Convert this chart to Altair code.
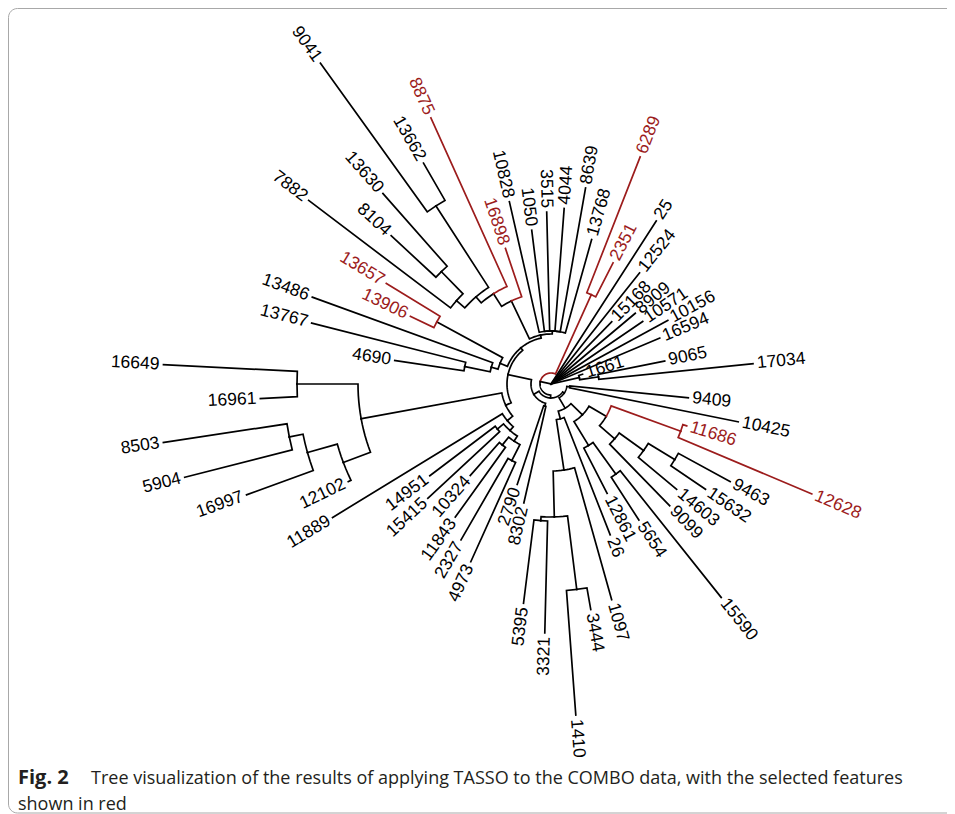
import math
import pandas as pd
import altair as alt

# ---------------- data ----------------
# leaves in angular order (counter-clockwise from the right)
leaf_names = ["17034", "9065", "1661", "16594", "10156", "10571", "8909", "15168", "12524", "25",
              "2351", "6289", "13768", "8639", "4044", "3515", "1050", "10828", "16898", "8875",
              "13662", "9041", "13630", "8104", "7882", "13657", "13906", "13486", "13767", "4690",
              "16649", "16961", "8503", "5904", "16997", "12102", "11889", "14951", "15415", "10324",
              "11843", "2327", "4973", "2790", "8302", "5395", "3321", "1410", "3444", "1097",
              "26", "12861", "5654", "15590", "9099", "14603", "15632", "9463", "12628", "11686",
              "10425", "9409"]
leaf_parent = ["F1", "F1", "F2", "root", "root", "root", "root", "root", "root", "root",
               "Red1", "Red1", "TG", "TG", "TG", "TG", "TG", "TG", "E", "D",
               "A", "A", "F", "F", "G", "Z", "Z", "M2", "M1", "M1",
               "Nd", "Nd", "Na", "Na", "Nb", "Nc", "X6", "X1", "X1", "X2",
               "X2", "X3", "X3", "W", "W", "T", "T", "U", "U", "V",
               "N37", "N72", "N111", "N111", "N84", "N114", "N145", "N145", "Red2", "Red2",
               "LR1", "LR1"]
leaf_depth = [203, 116, 33, 118, 133, 111, 110, 87, 142, 194,
              136, 244, 150, 199, 176, 172, 155, 187, 143, 292,
              255, 395, 254, 218, 304, 193, 156, 254, 247, 158,
              388, 291, 392, 378, 324, 225, 256, 152, 168, 122,
              164, 180, 195, 106, 122, 221, 249, 332, 229, 224,
              162, 123, 162, 273, 170, 164, 187, 204, 283, 142,
              191, 138]
selected = ["2351", "6289", "16898", "8875", "13657", "13906", "12628", "11686"]

node_names = ["root", "F2", "F1", "P", "Red1", "X", "L6", "W", "L5", "L3", "L1", "TG", "E", "D",
              "H", "A", "G", "F", "L2", "Z", "M2", "M1", "L4", "Ne", "Nd", "Nc", "Nb", "Na",
              "X6", "X5", "X1", "X4", "X2", "X3", "LR", "LR1", "N30", "N37", "V", "S", "T", "U",
              "R", "N72", "N111", "Q", "N84", "N114", "N145", "Red2"]
node_parent = [None, "root", "F2", "root", "P", "P", "X", "L6", "L6", "L5", "L3", "L1", "L1", "E",
               "D", "H", "H", "G", "L3", "L2", "L2", "M2", "L5", "L4", "Ne", "Ne", "Nc", "Nb",
               "L4", "X6", "X5", "X5", "X4", "X4", "X", "LR", "LR", "N30", "N37", "V", "S", "S",
               "N30", "R", "N72", "R", "Q", "N84", "N114", "Q"]
node_depth = [0, 29, 48, 11, 98, 14, 20, 23, 44, 47, 50, 53, 92, 107,
              115, 212, 126, 157, 55, 130, 62, 88, 50, 193, 254, 222, 253, 267,
              57, 62, 70, 68, 78, 86, 16, 19, 28, 36, 87, 133, 137, 207,
              44, 72, 111, 64, 84, 114, 145, 138]
red_nodes = ["Red1", "Red2"]

caption_bold = "Fig. 2"
caption_line1 = "Tree visualization of the results of applying TASSO to the COMBO data, with the selected features"
caption_line2 = "shown in red"

RED = "#9c1c1c"
BLACK = "#000000"

# ---------------- fan layout ----------------
W, H = 939, 806
CX, CY = 543.0, 376.0
SLOT = 360.0 / (len(leaf_names) + 1)

parent, depth = {}, {}
for n, p, d in zip(node_names, node_parent, node_depth):
    parent[n], depth[n] = p, d
for n, p, d in zip(leaf_names, leaf_parent, leaf_depth):
    parent[n], depth[n] = p, d
children = {n: [] for n in node_names}
for n in node_names[1:] + leaf_names:
    children[parent[n]].append(n)

angle = {n: (i + 1) * SLOT for i, n in enumerate(leaf_names)}


def get_angle(n):
    if n not in angle:
        a = [get_angle(c) for c in children[n]]
        angle[n] = (min(a) + max(a)) / 2
    return angle[n]


get_angle("root")
red = set(selected) | set(red_nodes)


def pt(r, th):
    t = math.radians(th)
    return CX + r * math.cos(t), CY - r * math.sin(t)


rows = []
for c, p in parent.items():
    if p is None:
        continue
    rp, rc = depth[p], depth[c]
    a0, a1 = angle[p], angle[c]
    pts = []
    if rp > 0:
        nstep = max(1, int(abs(a1 - a0) / 1.5))
        for k in range(nstep + 1):
            pts.append(pt(rp, a0 + (a1 - a0) * k / nstep))
    else:
        pts.append(pt(0, a1))
    pts.append(pt(rc, a1))
    col = RED if c in red else BLACK
    for k, (x, y) in enumerate(pts):
        rows.append({"seg": c, "k": k, "x": x, "y": y, "col": col})
seg_df = pd.DataFrame(rows)

lab = []
for n in leaf_names:
    th = angle[n]
    x, y = pt(depth[n] + 4, th)
    left = 90 < th < 270
    rot = (180 - th) % 360 if left else (-th) % 360
    lab.append({"name": n, "x": x, "y": y, "rot": rot, "side": "L" if left else "R",
                "col": RED if n in selected else BLACK})
lab_df = pd.DataFrame(lab)

xs = alt.X("x:Q", scale=alt.Scale(domain=[0, W], nice=False, zero=False), axis=None)
ys = alt.Y("y:Q", scale=alt.Scale(domain=[0, H], nice=False, zero=False, reverse=True), axis=None)

lines = alt.Chart(seg_df).mark_line(strokeWidth=1.7, strokeJoin="miter", strokeCap="square").encode(
    x=xs, y=ys, detail="seg:N", order="k:Q", color=alt.Color("col:N", scale=None))


def labels(side, align):
    return alt.Chart(lab_df[lab_df.side == side]).mark_text(
        align=align, baseline="middle", font="Liberation Sans", fontSize=17.5).encode(
        x=xs, y=ys, text="name:N", angle=alt.Angle("rot:Q", scale=None),
        color=alt.Color("col:N", scale=None))


frame = alt.Chart(pd.DataFrame({"a": [0]})).mark_rect(
    fill=None, stroke="#a8a8a8", strokeWidth=1, cornerRadius=9).encode(
    x=alt.value(0.5), x2=alt.value(980), y=alt.value(0.5), y2=alt.value(805))

cap_font = "Open Sans"
cap1 = alt.Chart(pd.DataFrame({"t": [caption_bold]})).mark_text(
    align="left", baseline="alphabetic", font=cap_font, fontSize=20, fontWeight="bold",
    color="#231f20").encode(x=alt.value(10), y=alt.value(776), text="t:N")
cap2 = alt.Chart(pd.DataFrame({"t": [caption_line1]})).mark_text(
    align="left", baseline="alphabetic", font=cap_font, fontSize=18, color="#231f20").encode(
    x=alt.value(83), y=alt.value(776), text="t:N")
cap3 = alt.Chart(pd.DataFrame({"t": [caption_line2]})).mark_text(
    align="left", baseline="alphabetic", font=cap_font, fontSize=18, color="#231f20").encode(
    x=alt.value(10), y=alt.value(802), text="t:N")

chart = alt.layer(frame, lines, labels("L", "right"), labels("R", "left"), cap1, cap2, cap3).properties(
    width=W, height=H, padding=0, autosize=alt.AutoSizeParams(type="none")
).configure_view(stroke=None)

chart.save("out.html", embed_options={"renderer": "svg", "actions": False})
